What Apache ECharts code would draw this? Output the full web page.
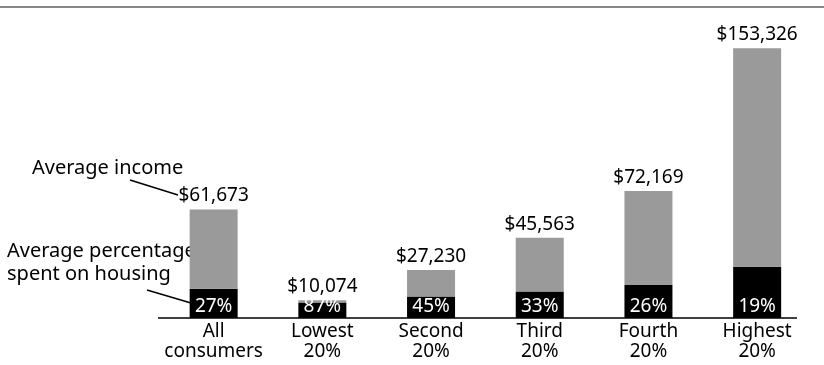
<!DOCTYPE html>
<html>
<head>
<meta charset="utf-8">
<script src="https://cdn.jsdelivr.net/npm/echarts@6/dist/echarts.min.js"></script>
<style>
html,body{margin:0;padding:0;background:#fff;}
#chart{width:824px;height:365px;}
</style>
</head>
<body>
<div id="chart"></div>
<script>
const categories = ['All\nconsumers', 'Lowest\n20%', 'Second\n20%', 'Third\n20%', 'Fourth\n20%', 'Highest\n20%'];
const averageIncome = [61673, 10074, 27230, 45563, 72169, 153326];
const housingPct = [27, 87, 45, 33, 26, 19];

const housingPart = averageIncome.map((v, i) => v * housingPct[i] / 100);
const restPart = averageIncome.map((v, i) => v - housingPart[i]);

const FONT = 'Noto Sans';
const chart = echarts.init(document.getElementById('chart'));
chart.setOption({
  animation: false,
  backgroundColor: '#fff',
  textStyle: { fontFamily: FONT },
  grid: { left: 159.3, right: 12.5, top: 36.4, bottom: 47 },
  xAxis: {
    type: 'category',
    data: categories,
    axisLine: { show: false },
    axisTick: { show: false },
    axisLabel: { fontSize: 19, color: '#000', lineHeight: 20, margin: 4, fontFamily: FONT, interval: 0 }
  },
  yAxis: { type: 'value', min: 0, max: 160000, show: false, splitLine: { show: false } },
  series: [
    {
      type: 'bar', stack: 'a', barWidth: 48,
      data: housingPart,
      itemStyle: { color: '#000' },
      label: {
        show: true, position: 'insideBottom', distance: 2,
        color: '#fff', fontSize: 19, fontFamily: FONT,
        formatter: p => housingPct[p.dataIndex] + '%'
      }
    },
    {
      type: 'bar', stack: 'a', barWidth: 48,
      data: restPart,
      itemStyle: { color: '#9a9a9a' },
      label: {
        show: true, position: 'top', distance: 4,
        color: '#000', fontSize: 19, fontFamily: FONT,
        formatter: p => '$' + averageIncome[p.dataIndex].toLocaleString('en-US')
      }
    }
  ],
  graphic: [
    { type: 'line', shape: { x1: 0, y1: 7, x2: 824, y2: 7 }, style: { stroke: '#888', lineWidth: 2 } },
    { type: 'line', shape: { x1: 158, y1: 318, x2: 797, y2: 318 }, style: { stroke: '#000', lineWidth: 1.5 } },
    { type: 'text', left: 32, top: 158, style: { text: 'Average income', fontSize: 20, fill: '#000', fontFamily: FONT } },
    { type: 'line', shape: { x1: 130, y1: 180, x2: 178, y2: 195 }, style: { stroke: '#000', lineWidth: 1.5 } },
    { type: 'text', left: 7, top: 240, style: { text: 'Average percentage\nspent on housing', fontSize: 20, lineHeight: 23, fill: '#000', fontFamily: FONT } },
    { type: 'line', shape: { x1: 147, y1: 290, x2: 191, y2: 303 }, style: { stroke: '#000', lineWidth: 1.5 } }
  ]
});
</script>
</body>
</html>
